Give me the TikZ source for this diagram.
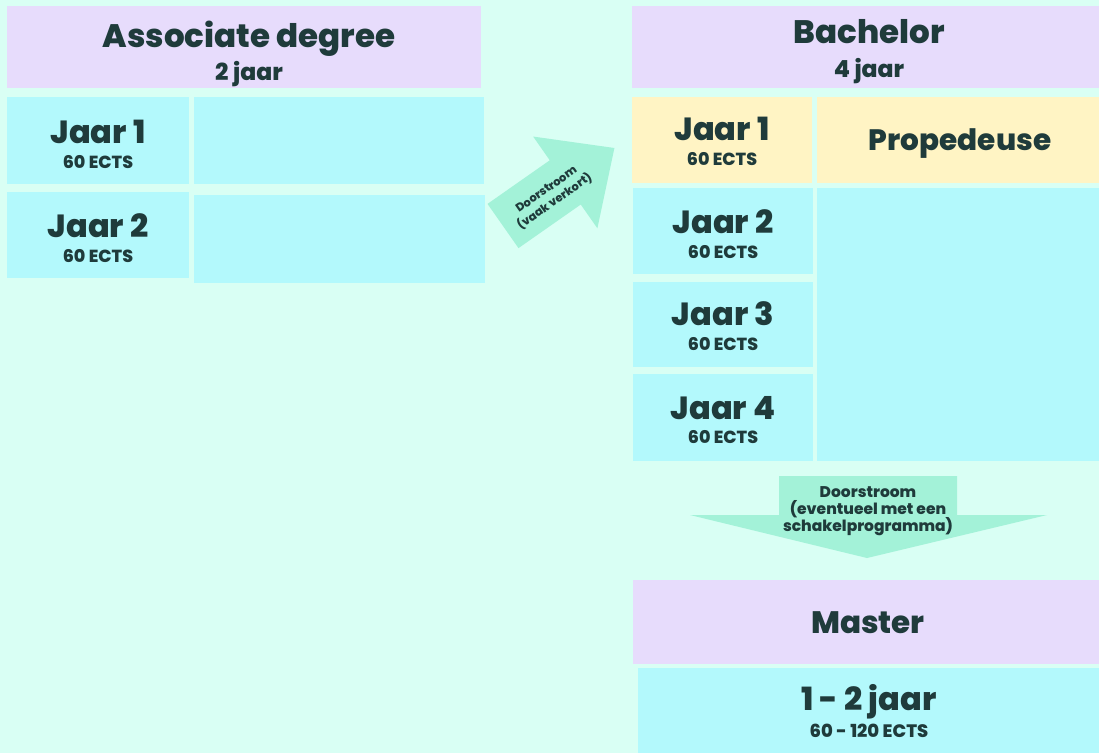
\documentclass[tikz,border=0pt]{standalone}
\usepackage{fontspec}
\setmainfont{Poppins}
\IfFontExistsTF{Poppins ExtraBold}{\newfontfamily\hv{Poppins ExtraBold}}{%
  \IfFontExistsTF{Poppins Black}{\newfontfamily\hv{Poppins Black}}{\newfontfamily\hv{Poppins}[UprightFont=*-Bold]}}
\definecolor{bg}{HTML}{D9FFF4}
\definecolor{lav}{HTML}{E7DCFC}
\definecolor{cya}{HTML}{B3F9FC}
\definecolor{yel}{HTML}{FFF4C4}
\definecolor{arr}{HTML}{A3F2D8}
\definecolor{ink}{HTML}{1F3B3B}
\newcommand\fsz[1]{\fontsize{#1}{#1}\selectfont\hv}
\begin{document}
\begin{tikzpicture}[x=1pt,y=-1pt,
  box/.style={inner sep=0pt, outer sep=0pt, anchor=north west},
  hdr/.style={box, fill=lav},
  cbox/.style={box, fill=cya},
  ybox/.style={box, fill=yel},
  txt/.style={anchor=base, text=ink, inner sep=0pt, outer sep=0pt}]
\fill[bg] (0,0) rectangle (1099,753);
\useasboundingbox (0,0) rectangle (1099,753);

% Associate degree
\node[hdr, minimum width=474pt, minimum height=82pt] (adh) at (7,6) {};
\node[cbox, minimum width=182pt, minimum height=87pt] (ad1) at (7,97) {};
\node[cbox, minimum width=290pt, minimum height=87pt] (ad1r) at (194,97) {};
\node[cbox, minimum width=182pt, minimum height=86pt] (ad2) at (7,192) {};
\node[cbox, minimum width=291pt, minimum height=88pt] (ad2r) at (194,195) {};
\node[txt, font=\fsz{32.5}] (adt) at (249,47) {Associate degree};
\node[txt, font=\fsz{23.5}] (ads) at (249,80) {2 jaar};
\node[txt, font=\fsz{32}] (ad1t) at (98,143) {Jaar 1};
\node[txt, font=\fsz{17.5}] (ad1e) at (98,168) {60 ECTS};
\node[txt, font=\fsz{32}] (ad2t) at (98,237) {Jaar 2};
\node[txt, font=\fsz{17.5}] (ad2e) at (98,262) {60 ECTS};

% Bachelor
\node[hdr, minimum width=467pt, minimum height=82pt] (bah) at (632,6) {};
\node[ybox, minimum width=180pt, minimum height=86pt] (ba1) at (632,97) {};
\node[ybox, minimum width=282pt, minimum height=86pt] (bap) at (817,97) {};
\node[cbox, minimum width=180pt, minimum height=86pt] (ba2) at (633,188) {};
\node[cbox, minimum width=180pt, minimum height=85pt] (ba3) at (633,282) {};
\node[cbox, minimum width=180pt, minimum height=87pt] (ba4) at (633,374) {};
\node[cbox, minimum width=282pt, minimum height=273pt] (bar) at (817,188) {};
\node[txt, font=\fsz{32.5}] (bat) at (869,43) {Bachelor};
\node[txt, font=\fsz{23.5}] (bas) at (869,77) {4 jaar};
\node[txt, font=\fsz{32}] (ba1t) at (722,140) {Jaar 1};
\node[txt, font=\fsz{17.5}] (ba1e) at (722,165) {60 ECTS};
\node[txt, font=\fsz{29.5}] (bapt) at (960,150) {Propedeuse};
\node[txt, font=\fsz{32}] (ba2t) at (723,233) {Jaar 2};
\node[txt, font=\fsz{17.5}] (ba2e) at (723,258) {60 ECTS};
\node[txt, font=\fsz{32}] (ba3t) at (723,325) {Jaar 3};
\node[txt, font=\fsz{17.5}] (ba3e) at (723,350) {60 ECTS};
\node[txt, font=\fsz{32}] (ba4t) at (723,419) {Jaar 4};
\node[txt, font=\fsz{17.5}] (ba4e) at (723,443) {60 ECTS};

% Master
\node[hdr, minimum width=466pt, minimum height=84pt] (mah) at (633,580) {};
\node[cbox, minimum width=461pt, minimum height=85pt] (ma1) at (638,668) {};
\node[txt, font=\fsz{31}] (mat) at (868,633) {Master};
\node[txt, font=\fsz{32}] (ma1t) at (869,710) {1 - 2 jaar};
\node[txt, font=\fsz{18}] (ma1e) at (869,737) {60 - 120 ECTS};

% diagonal arrow
\begin{scope}[shift={(503,226)}, rotate=35]
\fill[arr] (0,-27) -- (76,-27) -- (76,-56) -- (136,0) -- (76,56) -- (76,27) -- (0,27) -- cycle;
\end{scope}
\node[text=ink, inner sep=0pt, outer sep=0pt, align=center, rotate=35,
  font={\fontsize{11.5}{14.5}\selectfont\hv}] (dd) at (551,196) {Doorstroom\\(vaak verkort)};

% down arrow
\fill[arr] (779,476) -- (957,476) -- (957,515) -- (1047,515) -- (867,558) -- (690,515) -- (779,515) -- cycle;
\node[txt, font=\fsz{15.5}] (d1) at (868,497) {Doorstroom};
\node[txt, font=\fsz{15.5}] (d2) at (868,514) {(eventueel met een};
\node[txt, font=\fsz{15.5}] (d3) at (868,531) {schakelprogramma)};
\end{tikzpicture}
\end{document}
